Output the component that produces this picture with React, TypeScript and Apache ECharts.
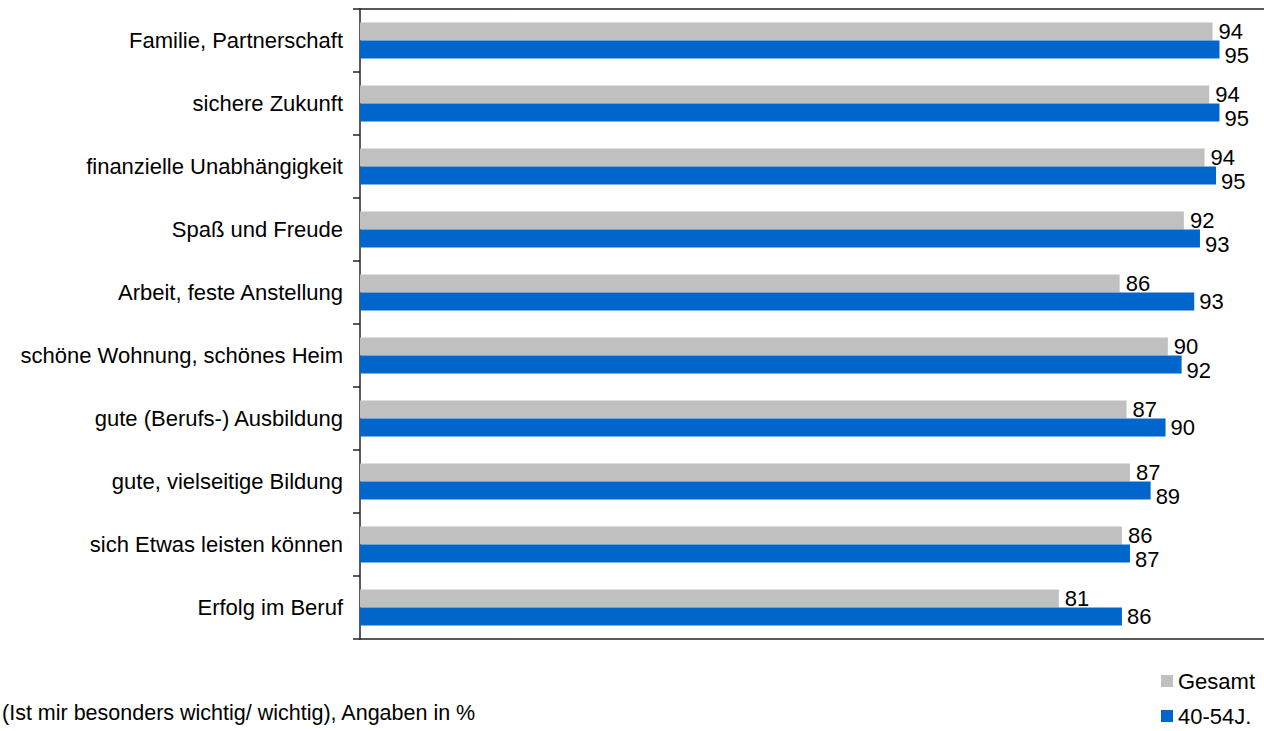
import React, { useEffect, useRef } from "react";
import * as echarts from "echarts";

const categories = [
  "Familie, Partnerschaft",
  "sichere Zukunft",
  "finanzielle Unabhängigkeit",
  "Spaß und Freude",
  "Arbeit, feste Anstellung",
  "schöne Wohnung, schönes Heim",
  "gute (Berufs-) Ausbildung",
  "gute, vielseitige Bildung",
  "sich Etwas leisten können",
  "Erfolg im Beruf",
];

const seriesNames = ["Gesamt", "40-54J."];

// labels show the rounded value
const gesamt = [94.3, 94.0, 93.6, 91.8, 86.2, 90.4, 86.8, 87.1, 86.4, 80.9];
const age4054 = [94.9, 94.9, 94.6, 93.2, 92.7, 91.6, 90.2, 88.9, 87.1, 86.4];

const footnote = "(Ist mir besonders wichtig/ wichtig), Angaben in %";

const FONT = '"Liberation Sans", Arial, Helvetica, sans-serif';
const GRAY = "#C0C0C0";
const BLUE = "#0066CC";

export default function App() {
  const ref = useRef<HTMLDivElement>(null);

  useEffect(() => {
    if (!ref.current) return;
    const chart = echarts.init(ref.current, null, { renderer: "svg" });

    const fmt = (p: any) => String(Math.round(p.value));

    const blueData = age4054.map((v, i) => ({
      value: v,
      label: {
        offset: [0, Math.round(v) - Math.round(gesamt[i]) <= 2 ? 6 : 0],
      },
    }));

    const axisLineStyle = { color: "#222", width: 1.5 };

    chart.setOption({
      animation: false,
      textStyle: { fontFamily: FONT },
      grid: {
        left: 360,
        top: 9,
        height: 630,
        width: 918,
        containLabel: false,
        outerBoundsMode: "none",
      },
      xAxis: [
        {
          type: "value",
          min: 20,
          max: 100,
          position: "bottom",
          axisLine: { show: true, lineStyle: axisLineStyle },
          axisTick: { show: false },
          axisLabel: { show: false },
          splitLine: { show: false },
        },
        {
          type: "value",
          min: 20,
          max: 100,
          position: "top",
          axisLine: { show: true, lineStyle: axisLineStyle },
          axisTick: { show: false },
          axisLabel: { show: false },
          splitLine: { show: false },
        },
      ],
      yAxis: {
        type: "category",
        inverse: true,
        data: categories,
        axisLine: { show: true, lineStyle: axisLineStyle },
        axisTick: {
          show: true,
          inside: false,
          length: 7,
          alignWithLabel: false,
          lineStyle: { color: "#222", width: 1.5 },
        },
        axisLabel: {
          fontSize: 22,
          color: "#000",
          fontFamily: FONT,
          margin: 17,
        },
        splitLine: { show: false },
      },
      legend: {
        data: seriesNames,
        orient: "vertical",
        left: 1161,
        top: 670,
        padding: 0,
        itemWidth: 12,
        itemHeight: 12,
        itemGap: 13,
        icon: "rect",
        textStyle: { fontSize: 22, color: "#000", fontFamily: FONT, lineHeight: 22 },
      },
      graphic: [
        {
          type: "text",
          left: 2,
          top: 702,
          style: {
            text: footnote,
            font: `21.5px ${FONT}`,
            fill: "#000",
          },
        },
      ],
      series: [
        {
          name: seriesNames[0],
          type: "bar",
          xAxisIndex: 0,
          data: gesamt,
          barWidth: 18,
          barGap: "0%",
          itemStyle: { color: GRAY },
          label: {
            show: true,
            position: "right",
            distance: 6,
            fontSize: 22,
            color: "#000",
            fontFamily: FONT,
            formatter: fmt,
          },
        },
        {
          name: seriesNames[1],
          type: "bar",
          xAxisIndex: 0,
          data: blueData,
          barWidth: 18,
          barGap: "0%",
          itemStyle: { color: BLUE },
          label: {
            show: true,
            position: "right",
            distance: 5,
            fontSize: 22,
            color: "#000",
            fontFamily: FONT,
            formatter: fmt,
          },
        },
      ],
    });

    return () => chart.dispose();
  }, []);

  return (
    <div
      ref={ref}
      style={{
        position: "absolute",
        left: 0,
        top: 0,
        width: 1264,
        height: 731,
        background: "#fff",
      }}
    />
  );
}
